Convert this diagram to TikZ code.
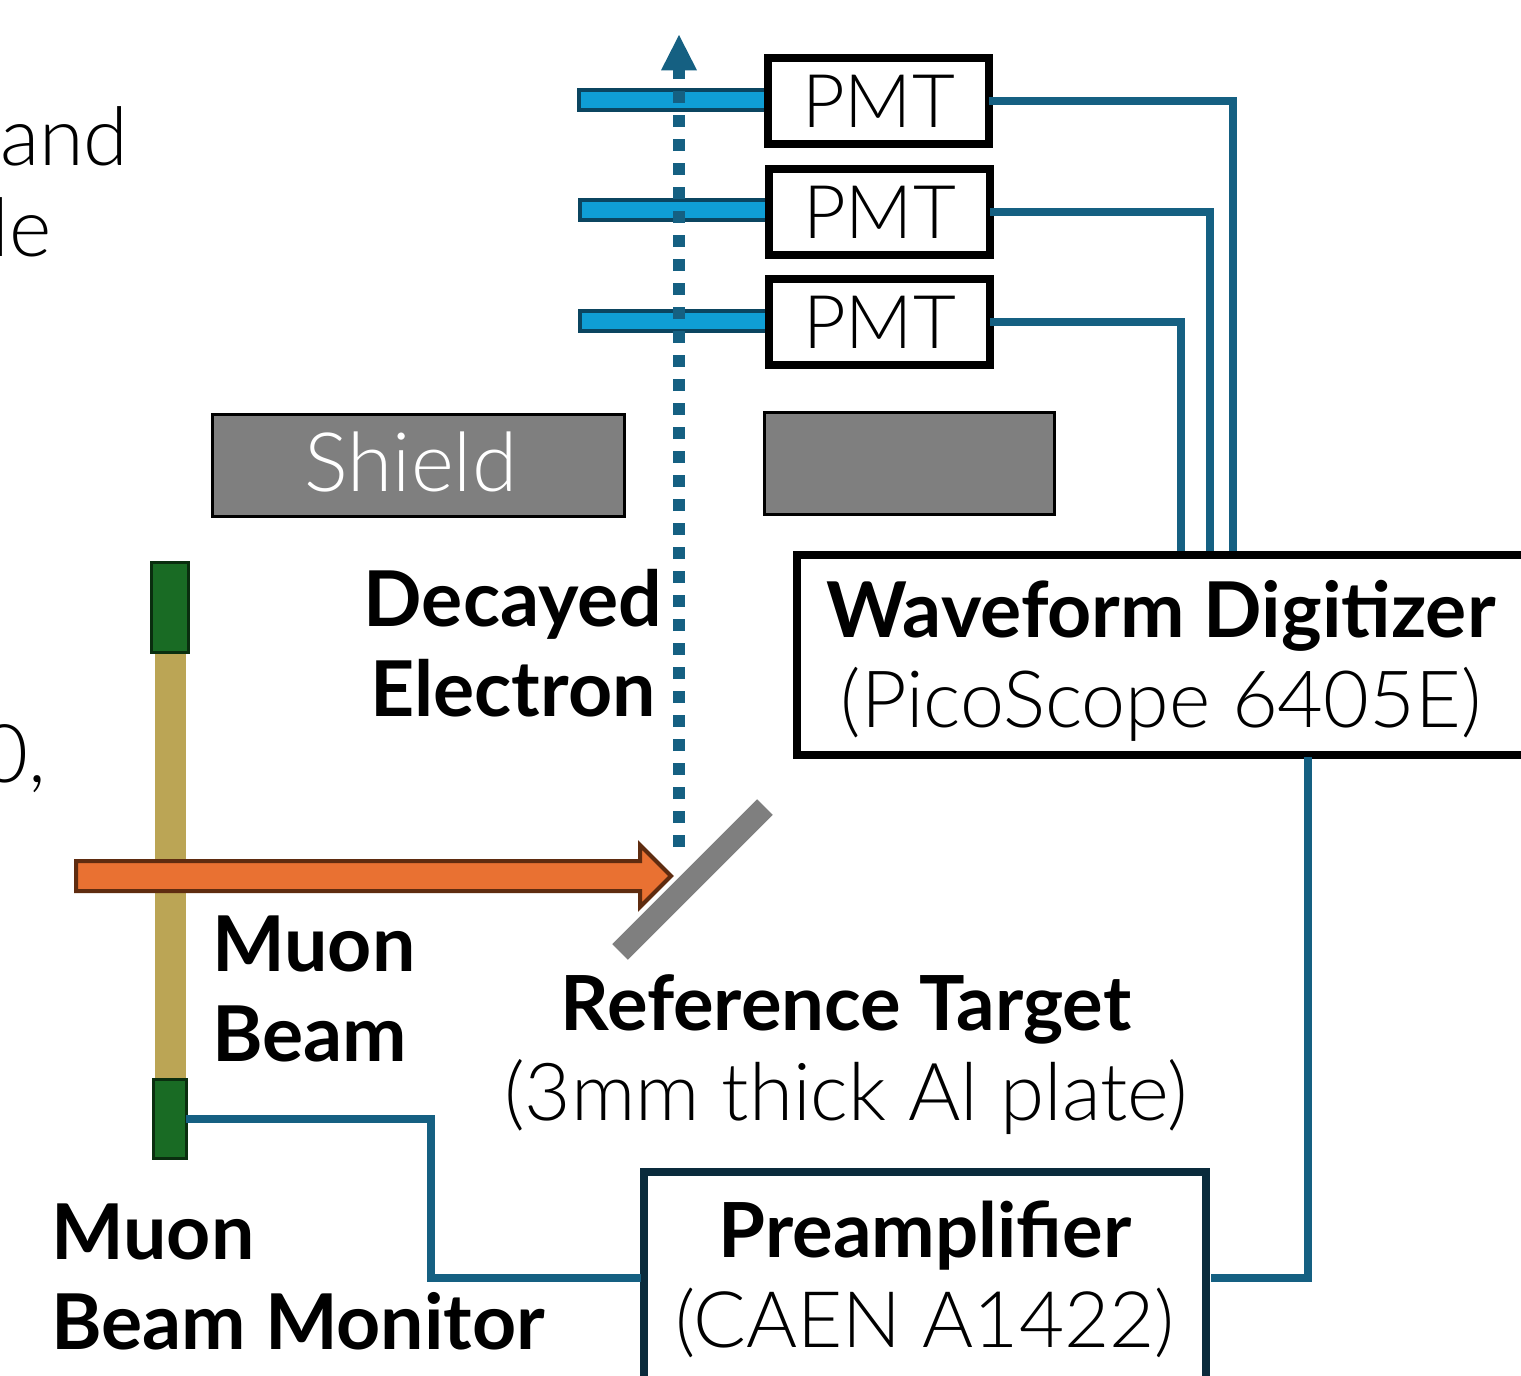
\documentclass[tikz,border=0pt]{standalone}
\usepackage{fontspec}
\setmainfont[BoldFont={Lato Bold}]{Lato Light}
\usetikzlibrary{shapes.geometric}
\definecolor{wirecol}{HTML}{156082}
\definecolor{platecol}{HTML}{0F9ED5}
\definecolor{platedark}{HTML}{0B4560}
\definecolor{shieldcol}{HTML}{7F7F7F}
\definecolor{monitorcol}{HTML}{196B24}
\definecolor{monitordark}{HTML}{0A2E0F}
\definecolor{barcol}{HTML}{BBA555}
\definecolor{beamcol}{HTML}{E97132}
\definecolor{beamdark}{HTML}{5F2C10}
\definecolor{preampcol}{HTML}{0A2B3C}
\tikzset{
  boxnode/.style={draw=black,line width=4pt,fill=white,inner sep=0pt,outer sep=0pt},
  pmtnode/.style={boxnode,minimum width=110.5pt,minimum height=43pt,font=\fontsize{37}{44}\selectfont},
  shieldnode/.style={draw=black,line width=1.5pt,fill=shieldcol,inner sep=0pt,text=white},
  platenode/.style={fill=platecol,draw=platedark,line width=2pt,inner sep=0pt,outer sep=0pt,minimum height=10pt},
  monitornode/.style={fill=monitorcol,draw=monitordark,line width=1.5pt,inner sep=0pt,outer sep=0pt},
  wire/.style={wirecol,line width=4pt},
  lbl/.style={font=\fontsize{39}{45}\selectfont,align=center,inner sep=0pt},
  boldlbl/.style={lbl,font=\fontsize{38.5}{45}\selectfont\bfseries}
}
\begin{document}
\begin{tikzpicture}[x=0.5pt,y=-0.5pt]
\useasboundingbox (0,0) rectangle (1521,1376);
% Beam monitor bar
\node[fill=barcol,inner sep=0pt,minimum width=15.5pt,minimum height=250pt] (bar) at (170,860) {};
\node[monitornode,minimum width=18.5pt,minimum height=45pt] (monitorTop) at (170,607) {};
\node[monitornode,minimum width=16.5pt,minimum height=39.5pt] (monitorBottom) at (169.5,1119) {};

% Plates and PMTs
\node[platenode,minimum width=94pt] (plateA) at (673,100) {};
\node[platenode,minimum width=94pt] (plateB) at (674,210) {};
\node[platenode,minimum width=94pt] (plateC) at (674,321) {};

% Electron track
\coordinate (trackStart) at (679,847);
\coordinate (trackEnd) at (679,67);
\draw[wirecol,line width=6pt,dash pattern=on 6pt off 6pt] (trackStart) -- (trackEnd);
\node[fill=wirecol,isosceles triangle,isosceles triangle apex angle=54,shape border rotate=90,inner sep=0pt,outer sep=0pt,minimum height=17.5pt,minimum width=18pt,anchor=apex] (trackTip) at (679,35) {};

\node[pmtnode] (pmtA) at (878.5,101) {\raisebox{-1pt}{PMT}};
\node[pmtnode] (pmtB) at (879.5,212) {\raisebox{-1pt}{PMT}};
\node[pmtnode] (pmtC) at (879.5,322) {\raisebox{-1pt}{PMT}};

% Shields
\node[shieldnode,minimum width=206pt,minimum height=51pt] (shieldL) at (418.5,465) {};
\node[lbl,text=white,font=\fontsize{41}{45}\selectfont] (shieldLbl) at (411,462) {Shield};
\node[shieldnode,minimum width=145pt,minimum height=51pt] (shieldR) at (909,463.5) {};

% Digitizer
\node[boxnode,minimum width=370pt,minimum height=100pt] (digitizer) at (1167,654.5) {};
\node[lbl,font=\fontsize{39.5}{45}\selectfont] (digitizerLbl) at (1161,661) {{\fontsize{38.5}{45}\selectfont\bfseries Waveform Digitizer}\\(PicoScope 6405E)};

% Wires from PMTs
\draw[wire] (pmtA.east) -| (1233,551);
\draw[wire] (pmtB.east) -| (1210,551);
\draw[wire] (pmtC.east) -| (1181,551);

% Preamp
\node[boxnode,draw=preampcol,minimum width=281pt,minimum height=120pt] (preamp) at (924.5,1292) {};
\node[lbl] (preampLbl) at (925,1279.5) {{\fontsize{38}{45}\selectfont\bfseries Preamplifier}\\(CAEN A1422)};
\draw[wire] (monitorBottom.east) -- (431,1119) -- (431,1278) -- (641,1278);
\draw[wire] (1211,1278) -- (1308,1278) -- (1308,757);

% Target and beam
\node[fill=shieldcol,inner sep=0pt,minimum width=102.5pt,minimum height=11pt,rotate=45] (target) at (692.5,879.5) {};
\draw[draw=beamdark,fill=beamcol,line width=2pt] (76,861) -- (640,861) -- (640,845) -- (671,876) -- (640,907) -- (640,891) -- (76,891) -- cycle;

% Labels
\node[boldlbl] (decayLbl) at (513,643) {Decayed\\Electron};
\node[boldlbl,align=left] (beamLbl) at (314,989) {Muon\\Beam};
\node[lbl,font=\fontsize{40}{45}\selectfont] (targetLbl) at (846,1055) {{\fontsize{38}{45}\selectfont\bfseries Reference Target}\\(3mm thick Al plate)};
\node[boldlbl,align=left,anchor=west] (monitorLbl) at (51,1277) {Muon\\Beam Monitor};
% Text cut off at the left edge
\node[lbl,anchor=east,font=\fontsize{40.5}{45}\selectfont] (cutA) at (129,136) {and};
\node[lbl,anchor=east,font=\fontsize{40.5}{45}\selectfont] (cutB) at (52,227) {le};
\node[lbl,anchor=east,font=\fontsize{40.5}{45}\selectfont] (cutC) at (47,759) {0,};
\end{tikzpicture}
\end{document}
